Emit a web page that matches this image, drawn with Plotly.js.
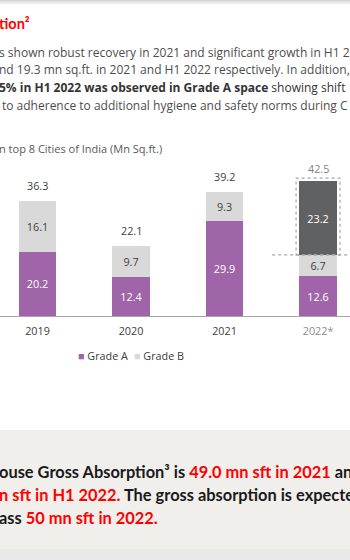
<!DOCTYPE html>
<html>
<head>
<meta charset="utf-8">
<script src="https://cdn.plot.ly/plotly-3.0.1.min.js"></script>
<style>
  html, body { margin: 0; padding: 0; background: #ffffff; overflow: hidden; }
  #chart { width: 350px; height: 560px; }
</style>
</head>
<body>
<div id="chart"></div>
<script>
// ---- data ----
const years = ['2019', '2020', '2021', '2022*'];
const gradeA = [20.2, 12.4, 29.9, 12.6];
const gradeB = [16.1, 9.7, 9.3, 6.7];
const projected = [null, null, null, 23.2];
const seriesNames = ['Grade A', 'Grade B'];

// ---- styles ----
const purple = '#a065a9';
const lightGray = '#d9d9d9';
const darkGray = '#5f6163';
const red = '#ff0000';
const W = 350, H = 560;
const baseFont = 'Open Sans, Noto Sans, sans-serif';
const boldFont = 'Lato, Open Sans, sans-serif';

const totals = years.map((_, i) => +(gradeA[i] + gradeB[i] + (projected[i] || 0)).toFixed(1));

const py = px => 1 - px / H;   // pixel row -> paper y
const px = p => p / W;        // pixel col -> paper x

const traces = [
  {
    type: 'bar', name: seriesNames[0], x: years, y: gradeA,
    marker: { color: purple }, width: 0.4,
    texttemplate: '%{y:.1f}', textposition: 'inside', insidetextanchor: 'middle',
    textangle: 0, constraintext: 'none',
    textfont: { family: baseFont, size: 10.8, color: '#ffffff' },
    hoverinfo: 'skip', showlegend: false
  },
  {
    type: 'bar', name: seriesNames[1], x: years, y: gradeB,
    marker: { color: lightGray }, width: 0.4,
    texttemplate: '%{y:.1f}', textposition: 'inside', insidetextanchor: 'middle',
    textangle: 0, constraintext: 'none',
    textfont: { family: baseFont, size: 10.8, color: '#404040' },
    hoverinfo: 'skip', showlegend: false
  },
  {
    type: 'bar', name: 'H2 2022 (E)', x: years, y: projected,
    marker: { color: darkGray }, width: 0.4,
    texttemplate: '%{y:.1f}', textposition: 'inside', insidetextanchor: 'middle',
    textangle: 0, constraintext: 'none',
    textfont: { family: baseFont, size: 10.8, color: '#ffffff' },
    hoverinfo: 'skip', showlegend: false
  }
];

const annotations = [];
function txt(text, x, yPx, size, opts) {
  annotations.push(Object.assign({
    xref: 'paper', yref: 'paper', x: x, y: py(yPx),
    xanchor: 'left', yanchor: 'middle', showarrow: false, xshift: -3,
    text: text, align: 'left',
    font: { family: baseFont, size: size, color: '#4d4d4d' }
  }, opts || {}));
}

// heading & paragraph (cropped page)
txt('<b>tion²</b>', 0, 24, 14.5, { font: { family: boldFont, size: 14.5, color: red } });
txt('s shown robust recovery in 2021 and significant growth in H1 2022', 0, 52, 12);
txt('nd 19.3 mn sq.ft. in 2021 and H1 2022 respectively. In addition,', 0, 69.5, 12);
txt('<b>5% in H1 2022 was observed in Grade A space</b> showing shift', 0, 87, 12, { font: { family: baseFont, size: 12, color: '#333333' } });
txt('to adherence to additional hygiene and safety norms during C', 0, 105, 12, { xshift: 0 });

// chart subtitle
txt('n top 8 Cities of India (Mn Sq.ft.)', 0, 149, 11, { font: { family: baseFont, size: 11, color: '#595959' } });

// totals above bars
totals.forEach((t, i) => {
  const last = i === years.length - 1;
  annotations.push({
    xref: 'x', yref: 'y', x: i, y: t,
    yanchor: 'middle', xanchor: 'center', showarrow: false,
    yshift: last ? 13 : 15,
    text: t.toFixed(1),
    font: { family: baseFont, size: 10.8, color: last ? '#7f7f7f' : '#404040' }
  });
});

// legend (square swatches)
txt('<span style="color:' + purple + '">■</span> ' + seriesNames[0], px(76), 355, 10.8, { font: { family: baseFont, size: 10.8, color: '#404040' }, xshift: 0 });
txt('<span style="color:' + lightGray + '">■</span> ' + seriesNames[1], px(132), 355, 10.8, { font: { family: baseFont, size: 10.8, color: '#404040' }, xshift: 0 });

// bottom callout
const bs = 16.4;
const bf = { family: boldFont, size: bs, color: '#1a1a1a' };
const R = s => '<span style="color:' + red + '">' + s + '</span>';
txt('<b>ouse Gross Absorption³ is ' + R('49.0 mn sft in 2021') + ' and</b>', 0, 471, bs, { font: bf });
txt('<b>' + R('n sft in H1 2022.') + ' The gross absorption is expected</b>', 0, 494, bs, { font: bf });
txt('<b>ass ' + R('50 mn sft in 2022.') + '</b>', 0, 517, bs, { font: bf });

const lastIdx = years.length - 1;
const shapes = [
  // top page shadow
  { type: 'rect', xref: 'paper', yref: 'paper', x0: 0, x1: 1, y0: py(4), y1: 1, fillcolor: '#ececec', line: { width: 0 }, layer: 'below' },
  { type: 'rect', xref: 'paper', yref: 'paper', x0: 0, x1: 1, y0: py(1.5), y1: 1, fillcolor: '#d4d4d4', line: { width: 0 }, layer: 'below' },
  // callout box
  { type: 'rect', xref: 'paper', yref: 'paper', x0: 0, x1: 1, y0: py(549), y1: py(430), fillcolor: '#f1efeb', line: { width: 0 }, layer: 'below' },
  { type: 'rect', xref: 'paper', yref: 'paper', x0: 0, x1: 1, y0: 0, y1: py(549), fillcolor: '#e9e9e9', line: { width: 0 }, layer: 'below' },
  // dashed box around projected part
  { type: 'rect', xref: 'x', yref: 'y', x0: lastIdx - 0.235, x1: lastIdx + 0.235,
    y0: gradeA[lastIdx] + gradeB[lastIdx], y1: totals[lastIdx] + 1.0,
    line: { color: '#a6a6a6', width: 1.2, dash: 'dot' }, fillcolor: 'rgba(0,0,0,0)' },
  { type: 'line', xref: 'x', yref: 'y', x0: lastIdx - 0.49, x1: lastIdx + 0.7,
    y0: gradeA[lastIdx] + gradeB[lastIdx], y1: gradeA[lastIdx] + gradeB[lastIdx],
    line: { color: '#a6a6a6', width: 1.2, dash: 'dot' } }
];

const layout = {
  width: W, height: H,
  margin: { l: 0, r: 0, t: 0, b: 0, pad: 0 },
  paper_bgcolor: '#ffffff', plot_bgcolor: 'rgba(0,0,0,0)',
  barmode: 'stack', showlegend: false,
  xaxis: {
    type: 'category', range: [-0.401, 3.342], domain: [0, 1],
    showline: true, linecolor: '#a6a6a6', linewidth: 1,
    showgrid: false, zeroline: false, ticks: '', ticklabelstandoff: 5,
    tickvals: years,
    ticktext: years.map((y, i) => i === lastIdx ? '<span style="color:#8c8c8c">' + y + '</span>' : y),
    tickfont: { family: baseFont, size: 10.8, color: '#404040' },
    fixedrange: true
  },
  yaxis: {
    domain: [1 - 316 / H, 1], range: [0, 316 / 3.17],
    visible: false, showgrid: false, zeroline: false, fixedrange: true
  },
  annotations: annotations,
  shapes: shapes,
  font: { family: baseFont }
};

Plotly.newPlot('chart', traces, layout, { staticPlot: true, displayModeBar: false });
</script>
</body>
</html>
